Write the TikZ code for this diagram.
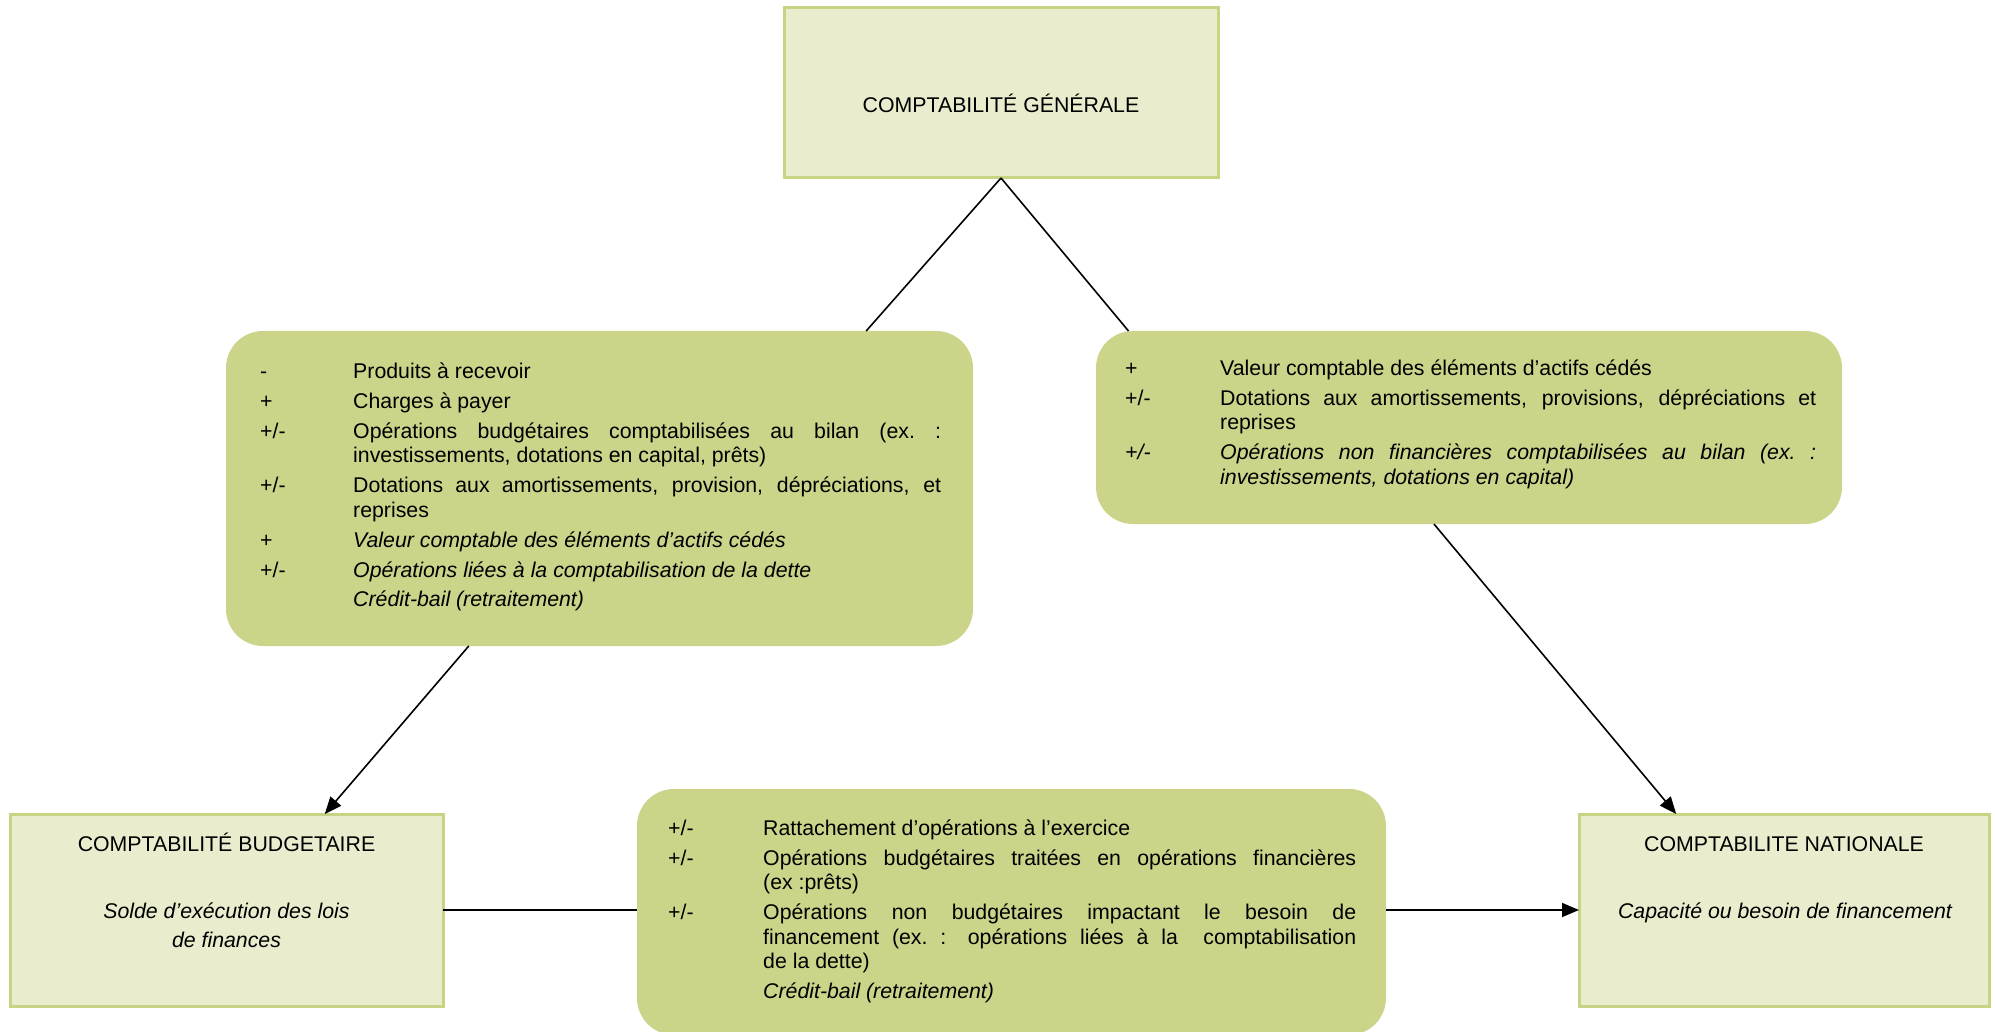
\documentclass[tikz,border=0pt]{standalone}
\usepackage{fontspec}
\setmainfont{Liberation Sans}
\usetikzlibrary{arrows.meta,calc}
\definecolor{lightfill}{RGB}{234,237,205}
\definecolor{lightedge}{RGB}{200,212,132}
\definecolor{darkfill}{RGB}{204,212,138}
\newlength{\signw}
\newcommand{\entry}[2]{\noindent\hangindent=\signw\hangafter=1\makebox[\signw][l]{#1}#2\par}
\begin{document}
\begin{tikzpicture}[x=1pt,y=-1pt,
  lightbox/.style={draw=lightedge, line width=3pt, fill=lightfill, rectangle, inner sep=0pt, outer sep=0pt},
  greenbox/.style={fill=darkfill, rectangle, rounded corners=37pt, inner sep=0pt, outer sep=0pt},
  txt/.style={font=\fontsize{21.3pt}{25pt}\selectfont, inner sep=0pt},
  listtxt/.style={font=\fontsize{21.3pt}{24.5pt}\selectfont, align=justify, inner sep=0pt,
    execute at begin node={\setlength{\parskip}{5.5pt}\tolerance=10000\hyphenpenalty=10000\exhyphenpenalty=10000}},
  conn/.style={draw=black, line width=1.6pt},
  arr/.style={conn, -{Triangle[length=17pt,width=14pt]}}
]
\clip (0,0) rectangle (1995,1032);
% boxes
\node[lightbox, minimum width=434pt, minimum height=170pt] (gen) at (1001,93) {};
\node[greenbox, minimum width=747pt, minimum height=315pt] (lbox) at (599.5,488.5) {};
\node[greenbox, minimum width=746pt, minimum height=193pt] (rbox) at (1469,427.5) {};
\node[greenbox, minimum width=749pt, minimum height=246pt] (mbox) at (1011.5,912) {};
\node[lightbox, minimum width=433pt, minimum height=192pt] (bbox) at (226.5,910) {};
\node[lightbox, minimum width=410pt, minimum height=192pt] (nbox) at (1784,910) {};
% texts
\node[txt, anchor=base] (gent) at (1001,113) {COMPTABILITÉ GÉNÉRALE};
\node[txt, anchor=base] (bt) at (226.5,851) {COMPTABILITÉ BUDGETAIRE};
\node[txt, anchor=base] (bs1) at (226.5,918) {\itshape Solde d’exécution des lois};
\node[txt, anchor=base] (bs2) at (226.5,947) {\itshape de finances};
\node[txt, anchor=base] (nt) at (1784,851) {COMPTABILITE NATIONALE};
\node[txt, anchor=base] (ns) at (1785,918) {\itshape Capacité ou besoin de financement};
\node[listtxt, text width=681pt, anchor=base west] (lt) at (260,378) {\setlength{\signw}{93pt}%
\entry{-}{Produits à recevoir}%
\entry{+}{Charges à payer}%
\entry{+/-}{Opérations budgétaires comptabilisées au bilan (ex.~:\linebreak investissements, dotations en capital, prêts)}%
\entry{+/-}{Dotations aux amortissements, provision, dépréciations, et\linebreak reprises}%
\entry{+}{\textit{Valeur comptable des éléments d’actifs cédés}}%
\entry{+/-}{\textit{Opérations liées à la comptabilisation de la dette}}%
\entry{}{\textit{Crédit-bail (retraitement)}}};
\node[listtxt, text width=691pt, anchor=base west] (rt) at (1125,375) {\setlength{\signw}{95pt}%
\entry{+}{Valeur comptable des éléments d’actifs cédés}%
\entry{+/-}{Dotations aux amortissements, provisions, dépréciations et\linebreak reprises}%
\entry{\textit{+/-}}{\textit{Opérations non financières comptabilisées au bilan (ex.~:\linebreak investissements, dotations en capital)}}};
\node[listtxt, text width=688pt, anchor=base west] (mt) at (668,835) {\setlength{\signw}{95pt}%
\entry{+/-}{Rattachement d’opérations à l’exercice}%
\entry{+/-}{Opérations budgétaires traitées en opérations financières\linebreak (ex :prêts)}%
\entry{+/-}{Opérations non budgétaires impactant le besoin de\linebreak financement (ex.~: opérations liées à la \ comptabilisation\linebreak de la dette)}%
\entry{}{\textit{Crédit-bail (retraitement)}}};
% connectors
\draw[conn] (gen.south) -- ($(lbox.north west)!0.857!(lbox.north east)$);
\draw[conn] (gen.south) -- ($(rbox.north west)!0.0436!(rbox.north east)$);
\draw[arr] ($(lbox.south west)!0.325!(lbox.south east)$) -- ($(bbox.north west)!0.727!(bbox.north east)$);
\draw[arr] ($(rbox.south west)!0.453!(rbox.south east)$) -- ($(nbox.north west)!0.237!(nbox.north east)$);
\draw[conn] (bbox.east) -- (bbox.east -| mbox.west);
\draw[arr] (mbox.east |- nbox.west) -- (nbox.west);
\end{tikzpicture}
\end{document}
